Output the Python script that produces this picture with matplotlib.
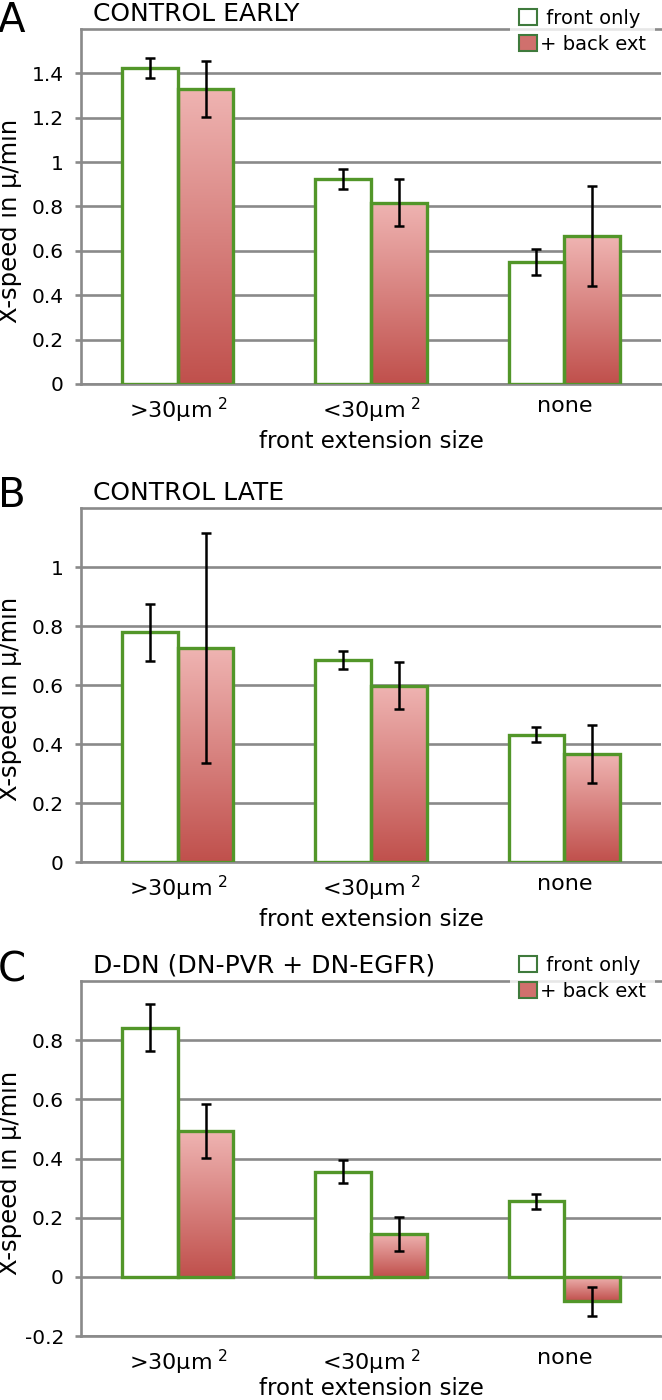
import matplotlib.pyplot as plt
import numpy as np
from matplotlib.patches import Patch
from matplotlib.colors import LinearSegmentedColormap
from matplotlib.ticker import FuncFormatter

# --- Data ---
categories = ['>30µm$^{\\ 2}$', '<30µm$^{\\ 2}$', 'none']

early_front = [1.425, 0.922, 0.550]
early_front_err = [0.045, 0.045, 0.057]
early_back = [1.330, 0.817, 0.667]
early_back_err = [0.125, 0.107, 0.227]

late_front = [0.778, 0.684, 0.432]
late_front_err = [0.097, 0.031, 0.026]
late_back = [0.724, 0.597, 0.366]
late_back_err = [0.390, 0.080, 0.097]

ddn_front = [0.842, 0.356, 0.255]
ddn_front_err = [0.080, 0.040, 0.025]
ddn_back = [0.493, 0.146, -0.083]
ddn_back_err = [0.092, 0.057, 0.050]

early_ticks = [0, 0.2, 0.4, 0.6, 0.8, 1.0, 1.2, 1.4]
late_ticks = [0, 0.2, 0.4, 0.6, 0.8, 1.0]
ddn_ticks = [-0.2, 0, 0.2, 0.4, 0.6, 0.8]

# --- Style ---
plt.rcParams['font.family'] = ['DejaVu Sans']
plt.rcParams['mathtext.fontset'] = 'dejavusans'

GREEN = '#529629'
GRAY = '#8a8a8a'
grad_cmap = LinearSegmentedColormap.from_list('pinkred', ['#efb4b2', '#c0504c'])
grad = np.linspace(0, 1, 256).reshape(-1, 1)

fig = plt.figure(figsize=(6.62, 14), dpi=100)

def px(v):
    # pixels -> points at dpi 100
    return v * 0.72


def draw_panel(ax, front, front_err, back, back_err, ylim, ticks, title, letter, letter_dy, xlab_pad=5):
    x = np.arange(len(categories))
    w = 0.288
    ax.bar(x - w / 2, front, w, color='white', edgecolor=GREEN, linewidth=2.4, zorder=3)
    bb = ax.bar(x + w / 2, back, w, color='none', edgecolor=GREEN, linewidth=2.4, zorder=3)
    for p in bb:
        x0, y0, h = p.get_x(), p.get_y(), p.get_height()
        lo, hi = min(y0, y0 + h), max(y0, y0 + h)
        ax.imshow(grad, cmap=grad_cmap, extent=[x0, x0 + p.get_width(), lo, hi],
                  aspect='auto', origin='upper', zorder=2.5)
    ax.errorbar(x - w / 2, front, yerr=front_err, fmt='none', ecolor='black',
                elinewidth=1.8, capsize=3.8, capthick=1.8, zorder=4)
    ax.errorbar(x + w / 2, back, yerr=back_err, fmt='none', ecolor='black',
                elinewidth=1.8, capsize=3.8, capthick=1.8, zorder=4)

    ax.set_xlim(-0.5, 2.5)
    ax.set_ylim(*ylim)
    ax.set_yticks(ticks)
    ax.yaxis.set_major_formatter(FuncFormatter(lambda v, p: f'{round(v, 2):g}'))
    ax.set_xticks(x)
    ax.set_xticklabels(categories)
    ax.yaxis.grid(True, color=GRAY, linewidth=1.9)
    ax.set_axisbelow(True)
    for s in ['left', 'top', 'bottom']:
        ax.spines[s].set_color(GRAY)
        ax.spines[s].set_linewidth(1.9)
    ax.spines['right'].set_visible(False)
    ax.tick_params(axis='y', length=px(6), width=1.9, color=GRAY, pad=px(11), labelsize=14.5)
    ax.tick_params(axis='x', length=0, pad=px(12), labelsize=16)
    ax.set_xlabel('front extension size', fontsize=16.5, labelpad=px(xlab_pad))
    ax.set_ylabel('X-speed in μ/min', fontsize=17.5)
    ax.yaxis.label.set_verticalalignment('center')
    ax.yaxis.set_label_coords(-0.122, 0.46)

    ax.annotate(title, xy=(0, 1), xycoords='axes fraction', xytext=(px(12), px(15)),
                textcoords='offset points', ha='left', va='center', fontsize=18)
    ax.annotate(letter, xy=(0, 1), xycoords='axes fraction', xytext=(px(-83), px(letter_dy)),
                textcoords='offset points', ha='left', va='center', fontsize=29)


left, width = 81 / 662, 580 / 662
ax_a = fig.add_axes([left, 1 - 384 / 1400, width, 355 / 1400])
ax_b = fig.add_axes([left, 1 - 862 / 1400, width, 354 / 1400])
ax_c = fig.add_axes([left, 1 - 1336 / 1400, width, 355 / 1400])

draw_panel(ax_a, early_front, early_front_err, early_back, early_back_err,
           (0, 1.6), early_ticks, 'CONTROL EARLY', 'A', 8)
draw_panel(ax_b, late_front, late_front_err, late_back, late_back_err,
           (0, 1.2), late_ticks, 'CONTROL LATE', 'B', 12)
draw_panel(ax_c, ddn_front, ddn_front_err, ddn_back, ddn_back_err,
           (-0.2, 1.0), ddn_ticks, 'D-DN (DN-PVR + DN-EGFR)', 'C', 10, xlab_pad=0)

handles = [Patch(facecolor='white', edgecolor='#3f7a3c', linewidth=1.5, label=' front only'),
           Patch(facecolor='#d0706d', edgecolor='#3f7a3c', linewidth=1.5, label='+ back ext')]
for ax, top_px in [(ax_a, 0), (ax_c, 947)]:
    leg = ax.legend(handles=handles, loc='upper right', bbox_to_anchor=(655 / 662, 1 - top_px / 1400),
                    bbox_transform=fig.transFigure, frameon=True, fancybox=False, fontsize=14,
                    handlelength=0.95, handleheight=0.9, handletextpad=0.15, labelspacing=0.35,
                    borderpad=0.45, borderaxespad=0)
    leg.get_frame().set_facecolor('white')
    leg.get_frame().set_edgecolor('none')
    leg.set_zorder(10)

fig.savefig('out.png', dpi=100)
